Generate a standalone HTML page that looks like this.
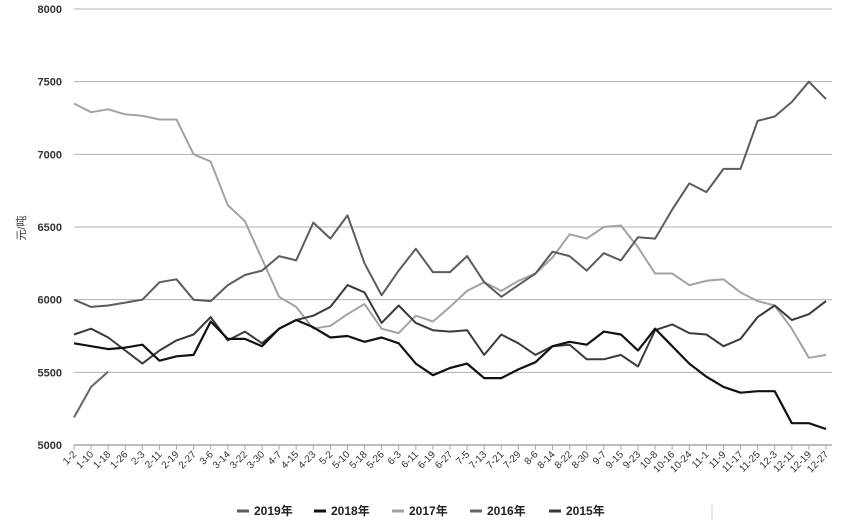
<!DOCTYPE html>
<html><head><meta charset="utf-8">
<style>
html,body{margin:0;padding:0;background:#fff;}
svg{display:block;font-family:"Liberation Sans","Noto Sans CJK SC",sans-serif;}
</style></head>
<body>
<svg id="chart" width="844" height="524" viewBox="0 0 844 524" xmlns="http://www.w3.org/2000/svg">
<g id="grid"></g>
<g id="yaxis"></g>
<g id="xaxis"></g>
<g id="series"></g>
<text x="0" y="0" transform="translate(25,228) rotate(-90)" font-size="11" text-anchor="middle" fill="#333">元/吨</text>
<g id="legend"></g>
<line x1="712" y1="505" x2="712" y2="520" stroke="#ccc" stroke-width="1"/>
</svg>
<script>
const categories = ["1-2","1-10","1-18","1-26","2-3","2-11","2-19","2-27","3-6","3-14","3-22","3-30","4-7","4-15","4-23","5-2","5-10","5-18","5-26","6-3","6-11","6-19","6-27","7-5","7-13","7-21","7-29","8-6","8-14","8-22","8-30","9-7","9-15","9-23","10-8","10-16","10-24","11-1","11-9","11-17","11-25","12-3","12-11","12-19","12-27"];
const yTicks = [5000,5500,6000,6500,7000,7500,8000];
const seriesNames = ["2019年","2018年","2017年","2016年","2015年"];
const s2019 = [6000,5950,5960,5980,6000,6120,6140,6000,5990,6100,6170,6200,6300,6270,6530,6420,6580,6250,6030,6200,6350,6190,6190,6300,6120,6020,6100,6180,6330,6300,6200,6320,6270,6430,6420,6620,6800,6740,6900,6900,7230,7260,7360,7500,7380];
const s2018 = [5700,5680,5660,5670,5690,5580,5610,5620,5850,5730,5730,5680,5800,5860,5810,5740,5750,5710,5740,5700,5560,5480,5530,5560,5460,5460,5520,5570,5680,5710,5690,5780,5760,5650,5800,5680,5560,5470,5400,5360,5370,5370,5150,5150,5110];
const s2017 = [7350,7290,7310,7275,7265,7240,7240,7000,6950,6650,6540,6280,6020,5950,5800,5820,5900,5970,5800,5770,5890,5850,5950,6060,6120,6060,6130,6180,6290,6450,6420,6500,6510,6360,6180,6180,6100,6130,6140,6050,5990,5960,5800,5600,5620];
const s2016 = [5190,5400,5505];
const s2015 = [5760,5800,5740,5650,5560,5650,5720,5760,5880,5720,5780,5700,5800,5860,5890,5950,6100,6050,5840,5960,5840,5790,5780,5790,5620,5760,5700,5620,5680,5690,5590,5590,5620,5540,5790,5830,5770,5760,5680,5730,5880,5960,5860,5900,5990];

const NS="http://www.w3.org/2000/svg";
const X0=74, X1=826, Y0=445, Y1=9, VMIN=5000, VMAX=8000;
function xScale(i){return X0+(X1-X0)*i/(categories.length-1);}
function yScale(v){return Y0-(v-VMIN)/(VMAX-VMIN)*(Y0-Y1);}
function mk(tag,attrs,parent){const e=document.createElementNS(NS,tag);for(const k in attrs)e.setAttribute(k,attrs[k]);parent.appendChild(e);return e;}

const grid=document.getElementById('grid'), yax=document.getElementById('yaxis'), xax=document.getElementById('xaxis');
yTicks.forEach(v=>{
  if(v>VMIN){const gl=mk('line',{x1:X0,x2:832,y1:yScale(v),y2:yScale(v),stroke:'#b0b0b0','stroke-width':1},grid);
  
  }
  const t=mk('text',{x:62,y:yScale(v)+4,'text-anchor':'end','font-size':11,'font-weight':'bold',fill:'#333'},yax);
  t.textContent=v;
  
  
});
const axl=mk('line',{x1:X0,x2:832,y1:Y0,y2:Y0,stroke:'#aaa','stroke-width':1.5},xax);


categories.forEach((c,i)=>{
  const x=xScale(i);
  const tk=mk('line',{x1:x,x2:x,y1:Y0,y2:Y0+5,stroke:'#aaa','stroke-width':1},xax);
  
  
  const t=mk('text',{x:0,y:0,'text-anchor':'end','font-size':10,fill:'#333',transform:`translate(${x+3},${Y0+10}) rotate(-45)`},xax);
  t.textContent=c;
  
  
});

const ser=document.getElementById('series');
const defs=[[s2017,'#a3a3a3',2,'line-2017'],[s2016,'#666',2,'line-2016'],[s2015,'#3a3a3a',2,'line-2015'],[s2019,'#5c5c5c',2,'line-2019'],[s2018,'#111',2.2,'line-2018']];
defs.forEach(d=>{
  const pts=d[0].map((v,i)=>xScale(i).toFixed(1)+','+yScale(v).toFixed(1)).join(' ');
  const p=mk('polyline',{points:pts,fill:'none',stroke:d[1],'stroke-width':d[2],'stroke-linejoin':'round'},ser);
  
  
});

const leg=document.getElementById('legend');
const legColors=['#5c5c5c','#111','#a3a3a3','#666','#3a3a3a'];
const legX=[237,314,392,470,549];
seriesNames.forEach((n,i)=>{
  const g=mk('g',{},leg);
  
  
  mk('line',{x1:legX[i],x2:legX[i]+12,y1:511,y2:511,stroke:legColors[i],'stroke-width':3},g);
  const t=mk('text',{x:legX[i]+17,y:515,'font-size':12,'font-weight':'bold',fill:'#222'},g);
  t.textContent=n;
});
</script>
</body></html>
